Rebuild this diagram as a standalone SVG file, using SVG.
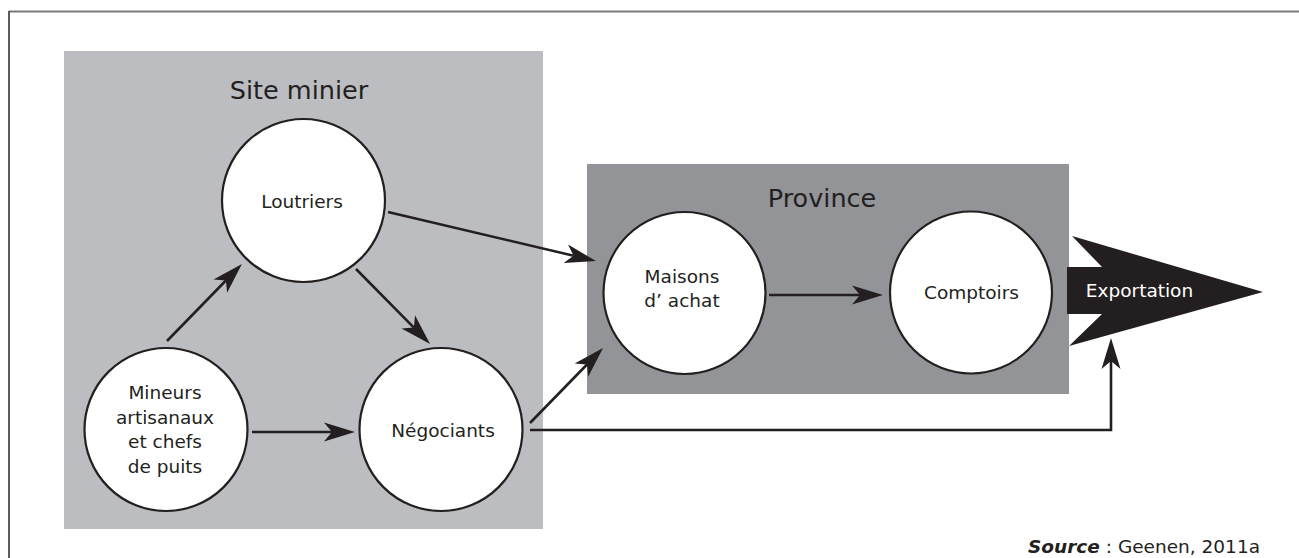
<svg xmlns="http://www.w3.org/2000/svg" width="1299" height="558" viewBox="0 0 1299 558">
<style>
text{font-family:"DejaVu Sans","Liberation Sans",sans-serif;fill:#231f20;text-anchor:middle}
.lbl{font-size:18.5px}
.ttl{font-size:25.5px}
.node circle{fill:#fff;stroke:#231f20;stroke-width:2.2}
.conn{fill:none;stroke:#231f20;stroke-width:2.6}
</style>
<defs>
<marker id="ah" markerUnits="userSpaceOnUse" viewBox="-10 -11 36 22" markerWidth="36" markerHeight="22" refX="0" refY="0" orient="auto">
<path d="M23,0 L-8,-9.5 L0,0 L-8,9.5 Z" fill="#231f20"/>
</marker>
</defs>
<rect x="0" y="0" width="1299" height="558" fill="#fff"/>
<g id="frame">
<line x1="9" y1="11.5" x2="1299" y2="11.5" stroke="#7a7a7a" stroke-width="2"/>
<line x1="9" y1="11" x2="9" y2="558" stroke="#333" stroke-width="1.6"/>
</g>
<g id="site-minier">
<rect x="64" y="51" width="479" height="478" fill="#bcbdc1"/>
<text class="ttl" x="299" y="99">Site minier</text>
</g>
<g id="province">
<rect x="587" y="164" width="482" height="230" fill="#939498"/>
<text class="ttl" x="822" y="207">Province</text>
</g>
<g id="connectors">
<line class="conn" x1="167" y1="341" x2="225.9" y2="280.5" marker-end="url(#ah)"/>
<line class="conn" x1="356" y1="269" x2="413.9" y2="327.6" marker-end="url(#ah)"/>
<line class="conn" x1="252" y1="432" x2="332" y2="432" marker-end="url(#ah)"/>
<line class="conn" x1="388" y1="212" x2="573.6" y2="255.7" marker-end="url(#ah)"/>
<line class="conn" x1="530" y1="423" x2="587" y2="364.5" marker-end="url(#ah)"/>
<line class="conn" x1="769" y1="295" x2="860" y2="295" marker-end="url(#ah)"/>
<path class="conn" d="M530,430 H1111 V361" marker-end="url(#ah)"/>
</g>
<g id="loutriers" class="node">
<circle cx="303.5" cy="200.5" r="81.5"/>
<text class="lbl" x="302" y="208">Loutriers</text>
</g>
<g id="mineurs" class="node">
<circle cx="166" cy="429.5" r="81.5"/>
<text class="lbl" x="165" y="399">Mineurs</text>
<text class="lbl" x="165" y="423.5">artisanaux</text>
<text class="lbl" x="165" y="448">et chefs</text>
<text class="lbl" x="165" y="472.5">de puits</text>
</g>
<g id="negociants" class="node">
<circle cx="441" cy="429.5" r="81.5"/>
<text class="lbl" x="443" y="437">Négociants</text>
</g>
<g id="maisons" class="node">
<circle cx="684.5" cy="293" r="81"/>
<text class="lbl" x="682" y="283">Maisons</text>
<text class="lbl" x="682" y="307">d’ achat</text>
</g>
<g id="comptoirs" class="node">
<circle cx="971" cy="292.5" r="81"/>
<text class="lbl" x="971.5" y="299">Comptoirs</text>
</g>
<g id="exportation">
<polygon points="1067,267 1102,267 1072,236 1263,292 1069,346 1102,314 1067,314" fill="#231f20"/>
<text class="lbl" x="1139.5" y="297" style="fill:#fff">Exportation</text>
</g>
<g id="source">
<text x="1260" y="553" style="font-size:18.5px;text-anchor:end"><tspan font-weight="bold" font-style="italic">Source</tspan> : Geenen, 2011a</text>
</g>
</svg>
